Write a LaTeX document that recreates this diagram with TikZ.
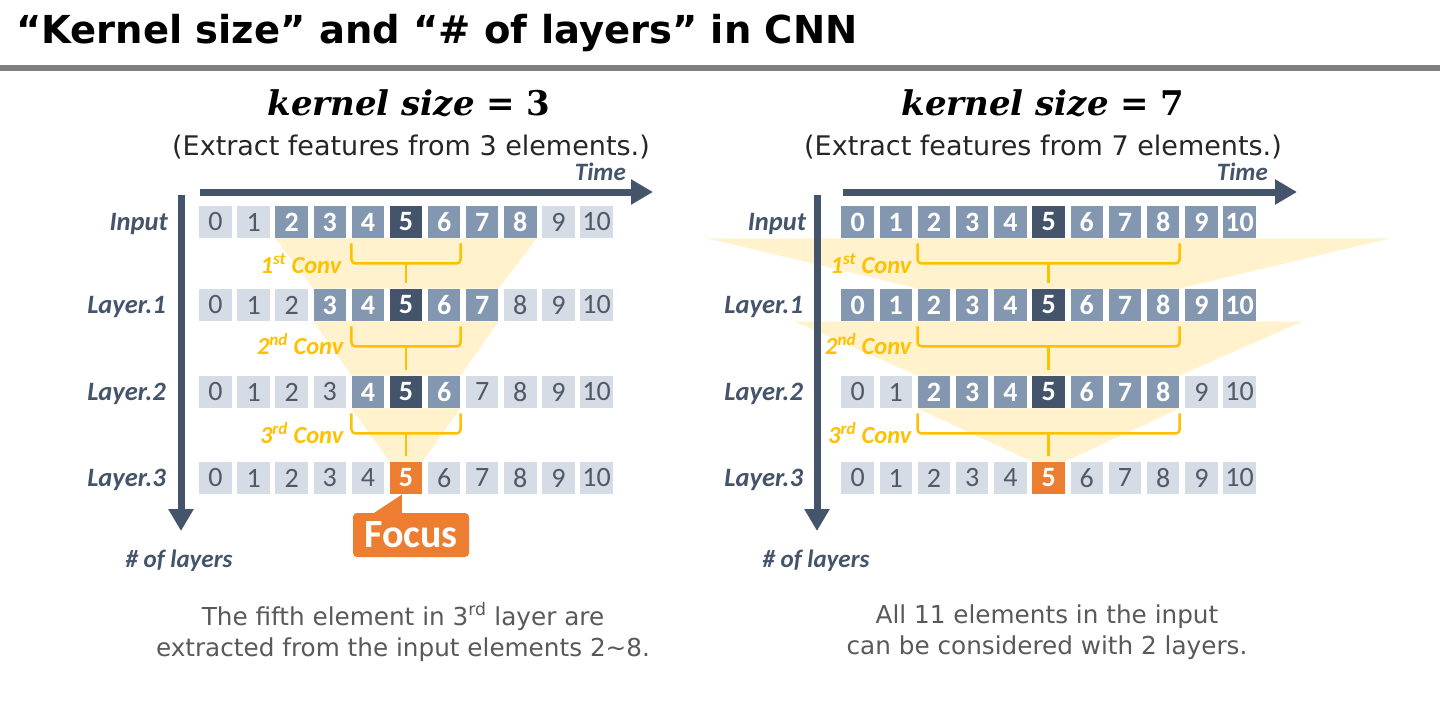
\documentclass[tikz,border=0pt]{standalone}
\usepackage{fontspec}
\usepackage{xcolor}
\usepackage{tikz}
\usetikzlibrary{arrows.meta,positioning,calc,backgrounds}

\newfontfamily\verdfont{DejaVu Sans}
\newfontfamily\carlito{Carlito}
\newfontfamily\mathlike{DejaVu Serif}

\definecolor{slate}{HTML}{44546A}
\definecolor{slatemid}{HTML}{8497B0}
\definecolor{slatelt}{HTML}{D6DCE5}
\definecolor{numgray}{HTML}{505A66}
\definecolor{accent}{HTML}{ED7D31}
\definecolor{gold}{HTML}{FFC000}
\definecolor{cream}{HTML}{FFF2CC}
\definecolor{rulegray}{HTML}{808080}
\definecolor{subtext}{HTML}{262626}
\definecolor{notegray}{HTML}{595959}

\begin{document}
\begin{tikzpicture}[
  x=1pt, y=-1pt,
  >=Latex,
  cell/.style={minimum width=32.5pt, minimum height=32.5pt, inner sep=0pt, font=\carlito\fontsize{28}{28}\selectfont},
  lt/.style={cell, fill=slatelt, text=numgray},
  md/.style={cell, fill=slatemid, text=white, font=\carlito\bfseries\fontsize{28}{28}\selectfont},
  dk/.style={md, fill=slate},
  fc/.style={md, fill=accent},
  rowlabel/.style={font=\carlito\bfseries\itshape\fontsize{26.5}{26.5}\selectfont, text=slate, inner sep=0pt, yshift=-2pt},
  axis/.style={draw=slate, line width=7pt, -{Triangle[length=22pt,width=24pt]}},
  axislabel/.style={font=\carlito\bfseries\itshape\fontsize{25}{25}\selectfont, text=slate, inner sep=0pt},
  conv/.style={draw=gold, line width=2.5pt, rounded corners=4pt},
  convlabel/.style={font=\carlito\bfseries\itshape\fontsize{24.5}{24.5}\selectfont, text=gold, inner sep=0pt, anchor=east},
  funnel/.style={fill=cream},
  heading/.style={font=\mathlike\bfseries\fontsize{34}{34}\selectfont, inner sep=0pt},
  subhead/.style={font=\verdfont\fontsize{27}{27}\selectfont, text=subtext, inner sep=0pt},
  note/.style={font=\verdfont\fontsize{24.7}{31}\selectfont, text=notegray, align=center, inner sep=0pt},
  callout/.style={fill=accent, text=white, rounded corners=4pt, minimum width=116pt, minimum height=44pt, inner sep=0pt, font=\carlito\bfseries\fontsize{40}{40}\selectfont}
]
\useasboundingbox (0,0) rectangle (1440,720);

% title bar
\node[anchor=base west, inner sep=0pt, font=\verdfont\bfseries\fontsize{38.5}{38.5}\selectfont] (title) at (16,43) {“Kernel size” and “\# of layers” in CNN};
\fill[rulegray] (0,65) rectangle (1440,71);

% ---- left: kernel size 3 ----
\node[heading] (Lhead) at (409,103) {\textit{kernel size} = 3};
\node[subhead] (Lsub) at (411,147) {(Extract features from 3 elements.)};

\foreach \k/\s in {0/lt,1/lt,2/md,3/md,4/md,5/dk,6/md,7/md,8/md,9/lt,10/lt}
  \node[\s] (Lin-\k) at (215.5+38.1*\k,222) {\k};
\foreach \k/\s in {0/lt,1/lt,2/lt,3/md,4/md,5/dk,6/md,7/md,8/lt,9/lt,10/lt}
  \node[\s] (L1-\k) at (215.5+38.1*\k,305) {\k};
\foreach \k/\s in {0/lt,1/lt,2/lt,3/lt,4/md,5/dk,6/md,7/lt,8/lt,9/lt,10/lt}
  \node[\s] (L2-\k) at (215.5+38.1*\k,392) {\k};
\foreach \k/\s in {0/lt,1/lt,2/lt,3/lt,4/lt,5/fc,6/lt,7/lt,8/lt,9/lt,10/lt}
  \node[\s] (L3-\k) at (215.5+38.1*\k,478) {\k};

\node[rowlabel, left=31pt of Lin-0] (Lin-lbl) {Input};
\node[rowlabel, left=33pt of L1-0] (L1-lbl) {Layer.1};
\node[rowlabel, left=33pt of L2-0] (L2-lbl) {Layer.2};
\node[rowlabel, left=33pt of L3-0] (L3-lbl) {Layer.3};

\coordinate (Ltime-s) at (200,192);
\coordinate (Ltime-e) at (653,192);
\coordinate (Ldepth-s) at (181,195);
\coordinate (Ldepth-e) at (181,531);
\draw[axis] (Ltime-s) -- (Ltime-e);
\draw[axis] (Ldepth-s) -- (Ldepth-e);
\node[axislabel, anchor=east] (Ltime-lbl) at (626,172) {Time};
\node[axislabel] (Ldepth-lbl) at (179,561) {\# of layers};

% braces
\draw[conv] ($(Lin-4.south west)+(0,5)$) |- ($(Lin-6.south east)+(0,25)$) -- ($(Lin-6.south east)+(0,5)$);
\draw[conv] ($(Lin-5.south)+(0,25)$) -- ($(L1-5.north)+(0,-6)$);
\node[convlabel] (Lc1) at ($(Lin-4.south west)+(-10,25)$) {1\textsuperscript{st} Conv};
\draw[conv] ($(L1-4.south west)+(0,5)$) |- ($(L1-6.south east)+(0,25)$) -- ($(L1-6.south east)+(0,5)$);
\draw[conv] ($(L1-5.south)+(0,25)$) -- ($(L2-5.north)+(0,-6)$);
\node[convlabel] (Lc2) at ($(L1-4.south west)+(-8,23)$) {2\textsuperscript{nd} Conv};
\draw[conv] ($(L2-4.south west)+(0,5)$) |- ($(L2-6.south east)+(0,25)$) -- ($(L2-6.south east)+(0,5)$);
\draw[conv] ($(L2-5.south)+(0,25)$) -- ($(L3-5.north)+(0,-6)$);
\node[convlabel] (Lc3) at ($(L2-4.south west)+(-8,25)$) {3\textsuperscript{rd} Conv};

\node[callout] (focus) at (411,535) {Focus};
\fill[accent] ($(focus.north west)+(20,1)$) -- ($(L3-5.south)+(-4,0)$) -- ($(focus.north west)+(49,1)$) -- cycle;

\node[note] (Lnote) at (403,632) {The fifth element in 3\textsuperscript{rd} layer are\\extracted from the input elements 2\textasciitilde 8.};

% ---- right: kernel size 7 ----
\node[heading] (Rhead) at (1043,103) {\textit{kernel size} = 7};
\node[subhead] (Rsub) at (1043,147) {(Extract features from 7 elements.)};

\foreach \k/\s in {0/md,1/md,2/md,3/md,4/md,5/dk,6/md,7/md,8/md,9/md,10/md}
  \node[\s] (Rin-\k) at (857.6+38.2*\k,222) {\k};
\foreach \k/\s in {0/md,1/md,2/md,3/md,4/md,5/dk,6/md,7/md,8/md,9/md,10/md}
  \node[\s] (R1-\k) at (857.6+38.2*\k,305) {\k};
\foreach \k/\s in {0/lt,1/lt,2/md,3/md,4/md,5/dk,6/md,7/md,8/md,9/lt,10/lt}
  \node[\s] (R2-\k) at (857.6+38.2*\k,392) {\k};
\foreach \k/\s in {0/lt,1/lt,2/lt,3/lt,4/lt,5/fc,6/lt,7/lt,8/lt,9/lt,10/lt}
  \node[\s] (R3-\k) at (857.6+38.2*\k,478) {\k};

\node[rowlabel, left=35pt of Rin-0] (Rin-lbl) {Input};
\node[rowlabel, left=38pt of R1-0] (R1-lbl) {Layer.1};
\node[rowlabel, left=38pt of R2-0] (R2-lbl) {Layer.2};
\node[rowlabel, left=38pt of R3-0] (R3-lbl) {Layer.3};

\coordinate (Rtime-s) at (843,192);
\coordinate (Rtime-e) at (1297,192);
\coordinate (Rdepth-s) at (817,195);
\coordinate (Rdepth-e) at (817,531);
\draw[axis] (Rtime-s) -- (Rtime-e);
\draw[axis] (Rdepth-s) -- (Rdepth-e);
\node[axislabel, anchor=east] (Rtime-lbl) at (1268,172) {Time};
\node[axislabel] (Rdepth-lbl) at (816,561) {\# of layers};

\draw[conv] ($(Rin-2.south west)+(0,5)$) |- ($(Rin-8.south east)+(0,25)$) -- ($(Rin-8.south east)+(0,5)$);
\draw[conv] ($(Rin-5.south)+(0,25)$) -- ($(R1-5.north)+(0,-6)$);
\node[convlabel] (Rc1) at ($(Rin-2.south west)+(-6,25)$) {1\textsuperscript{st} Conv};
\draw[conv] ($(R1-2.south west)+(0,5)$) |- ($(R1-8.south east)+(0,25)$) -- ($(R1-8.south east)+(0,5)$);
\draw[conv] ($(R1-5.south)+(0,25)$) -- ($(R2-5.north)+(0,-6)$);
\node[convlabel] (Rc2) at ($(R1-2.south west)+(-6,23)$) {2\textsuperscript{nd} Conv};
\draw[conv] ($(R2-2.south west)+(0,5)$) |- ($(R2-8.south east)+(0,25)$) -- ($(R2-8.south east)+(0,5)$);
\draw[conv] ($(R2-5.south)+(0,25)$) -- ($(R3-5.north)+(0,-6)$);
\node[convlabel] (Rc3) at ($(R2-2.south west)+(-6,25)$) {3\textsuperscript{rd} Conv};

\node[note] (Rnote) at (1047,632) {All 11 elements in the input\\can be considered with 2 layers.};

% receptive fields
\begin{scope}[on background layer]
  \fill[white] (0,0) rectangle (1440,720);
  \fill[funnel] (Lin-2.south west) -- (Lin-8.south east) -- (L1-7.north east) -- (L1-3.north west) -- cycle;
  \fill[funnel] (L1-3.south west) -- (L1-7.south east) -- (L2-6.north east) -- (L2-4.north west) -- cycle;
  \fill[funnel] (L2-4.south west) -- (L2-6.south east) -- (L3-5.north east) -- (L3-5.north west) -- cycle;
  \fill[funnel] ($(Rin-5.south)+(-341,0)$) -- ($(Rin-5.south)+(341,0)$) -- (R1-8.north east) -- (R1-2.north west) -- cycle;
  \fill[funnel] ($(R1-5.south)+(-254,0)$) -- ($(R1-5.south)+(254,0)$) -- (R2-8.north east) -- (R2-2.north west) -- cycle;
  \fill[funnel] (R2-2.south west) -- (R2-8.south east) -- (R3-5.north east) -- (R3-5.north west) -- cycle;
\end{scope}
\end{tikzpicture}
\end{document}
